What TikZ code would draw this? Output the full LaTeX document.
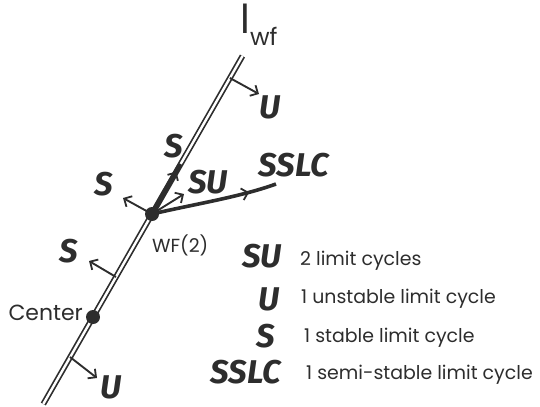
\documentclass[tikz,border=0pt]{standalone}
\usepackage{fontspec}
\setmainfont{Poppins}
\newfontfamily\lblfont{Fira Sans}
\usetikzlibrary{arrows.meta,decorations.markings}
\definecolor{ink}{RGB}{45,45,45}
\tikzset{
  lbl/.style={font=\lblfont\bfseries\itshape\fontsize{33}{33}\selectfont, text=ink, inner sep=0pt},
  txt/.style={font=\fontsize{19}{19}\selectfont, text=ink, inner sep=0pt, anchor=base west},
  dbl/.style={draw=ink, line width=1.7bp, double=white, double distance=2.4bp},
  barb/.style={-{Straight Barb[length=6bp,width=12bp,line width=1.8bp]}},
  normarrow/.style={draw=ink, line width=1.9bp, barb},
  dot/.style={circle, fill=ink, minimum size=14bp, inner sep=0pt},
  midbarb/.style={postaction={decorate, decoration={markings, mark=at position #1 with {\arrow[ink, line width=1.8bp]{Straight Barb[length=6bp,width=12bp]}}}}}
}
\begin{document}
\begin{tikzpicture}[x=1bp,y=-1bp]
\useasboundingbox (0,0) rectangle (540,406);
% main line
\coordinate (top) at (242.5,56);
\coordinate (bot) at (43.3,404);
\coordinate (wfp) at (152,214);
\coordinate (cp) at (93,317);
\draw[dbl] (bot) -- (top);
% points on line
\coordinate (a1) at (229.9,78);
\coordinate (a2) at (116,277);
\coordinate (a3) at (70,357);
\coordinate (thk) at (180.6,164);
% arrow ends
\coordinate (e1) at (259,94);
\coordinate (e2) at (89,261);
\coordinate (e3) at (97,378);
\coordinate (e4) at (123,198);
\coordinate (e5) at (184,194);
\coordinate (e6) at (276,184);
\draw[normarrow] (a1) -- (e1);
\draw[normarrow] (a2) -- (e2);
\draw[normarrow] (a3) -- (e3);
\draw[normarrow] (wfp) -- (e4);
\draw[normarrow] (wfp) -- (e5);
\draw[ink, line width=4.5bp, midbarb=0.85] (wfp) -- (thk);
\draw[ink, line width=3.6bp, midbarb=0.78] (wfp) .. controls (195,204) and (240,197) .. (e6);
\node[dot] (wf) at (wfp) {};
\node[dot] (center) at (cp) {};
% diagram labels
\node[lbl, anchor=base] (lS1) at (174,157) {S};
\node[lbl, anchor=base] (lU1) at (270,118) {U};
\node[lbl, anchor=base] (lSSLC) at (294,176) {SSLC};
\node[lbl, anchor=base] (lSU) at (208,193) {SU};
\node[lbl, anchor=base] (lS2) at (104,195) {S};
\node[lbl, anchor=base] (lS3) at (69,262) {S};
\node[lbl, anchor=base] (lU2) at (111,398) {U};
\node[txt, font=\fontsize{22}{22}\selectfont, anchor=base east] (tcenter) at (83,320) {Center};
\node[txt, font=\fontsize{19}{19}\selectfont] (twf) at (152,252) {WF(2)};
\node[txt, anchor=base west] (title) at (240,33) {{\fontsize{40}{40}\selectfont l}\raisebox{-12bp}{\fontsize{24}{24}\selectfont wf}};
% legend
\node[lbl, anchor=base east] (k1) at (282,267) {SU};
\node[lbl, anchor=base east] (k2) at (280,310) {U};
\node[lbl, anchor=base east] (k3) at (275,347) {S};
\node[lbl, anchor=base east] (k4) at (281,383) {SSLC};
\node[txt] (d1) at (300,265) {2 limit cycles};
\node[txt] (d2) at (301,303) {1 unstable limit cycle};
\node[txt] (d3) at (304,342) {1 stable limit cycle};
\node[txt] (d4) at (306,379) {1 semi-stable limit cycle};
\end{tikzpicture}
\end{document}
